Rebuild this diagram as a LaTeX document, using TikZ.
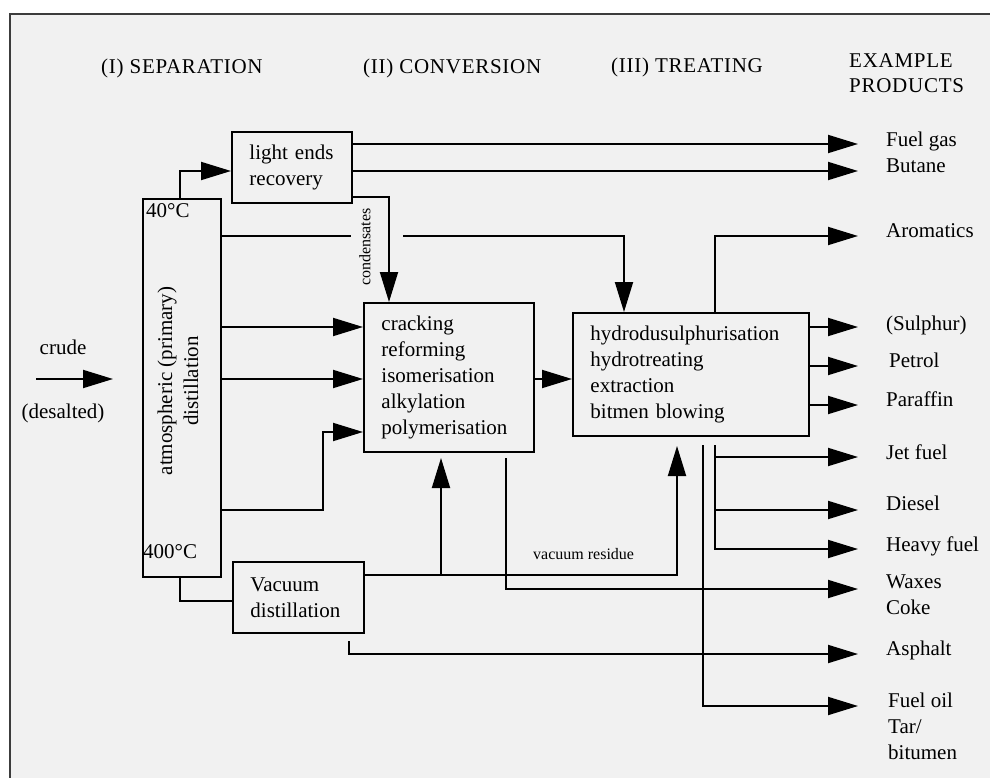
\documentclass[tikz,border=0pt]{standalone}
\usepackage{fontspec}
\setmainfont{Liberation Serif}
\newfontfamily\hdrfont[LetterSpace=3.5]{Liberation Serif}
\usetikzlibrary{arrows.meta,calc}
\definecolor{bgc}{RGB}{241,241,241}
\definecolor{framec}{RGB}{60,60,60}
\begin{document}
\begin{tikzpicture}[x=1pt,y=-1pt,
  txt/.style={font=\fontsize{21}{26}\selectfont, inner sep=0pt},
  small/.style={font=\fontsize{16}{19}\selectfont, inner sep=0pt},
  hdr/.style={font=\hdrfont\fontsize{21}{26}\selectfont, inner sep=0pt, anchor=base west},
  prod/.style={txt, anchor=base west},
  box/.style={draw, line width=1.9pt, font=\fontsize{21}{26}\selectfont, align=left,
              inner xsep=17.5pt, inner ysep=0pt, anchor=north west},
  ln/.style={line width=1.9pt},
  arr/.style={ln, -{Triangle[length=30pt,width=18pt]}},
]
\useasboundingbox (0,0) rectangle (990,778);
\clip (0,0) rectangle (990,778);
\fill[white] (0,0) rectangle (990,778);
\fill[bgc] (10,14) rectangle (995,790);
\draw[framec, line width=1.6pt] (10,795) -- (10,14) -- (1000,14);

% headers
\node[hdr] (h1) at (101,74) {(I) SEPARATION};
\node[hdr] (h2) at (363,74) {(II) CONVERSION};
\node[hdr] (h3) at (611,73) {(III) TREATING};
\node[hdr] (h4) at (849,68) {EXAMPLE};
\node[hdr] (h5) at (849,93) {PRODUCTS};

% boxes
\node[draw, line width=1.9pt, minimum width=78pt, minimum height=378pt, inner sep=0pt, anchor=north west] (col) at (142,198) {};
\node[txt, rotate=90, align=center] (coltxt) at (178,381) {atmospheric (primary)\\distillation};
\node[prod] (t40) at (146,218) {40°C};
\node[prod] (t400) at (143,558) {400°C};

\node[box, text width=85pt, minimum height=71pt] (le) at (231,131) {light ends\\recovery};
\node[box, text width=135pt, minimum height=149pt] (ck) at (363,302) {cracking\\reforming\\isomerisation\\alkylation\\polymerisation};
\node[box, text width=201pt, minimum height=123pt] (tr) at (572,312) {hydrodusulphurisation\\hydrotreating\\extraction\\bitmen blowing};
\node[box, text width=96pt, minimum height=71pt] (vac) at (232,561) {Vacuum\\distillation};

% crude
\coordinate (cs) at (36,379);
\coordinate (ce) at (113,379);
\draw[arr] (cs) -- (ce);
\node[txt, anchor=base] (crude) at (63,354) {crude};
\node[txt, anchor=base] (desalt) at (63,418) {(desalted)};

% product tips
\coordinate (tFG) at (858,144);
\coordinate (tBU) at (858,171);
\coordinate (tAR) at (858,236);
\coordinate (tSU) at (858,327);
\coordinate (tPE) at (858,366);
\coordinate (tPA) at (858,405);
\coordinate (tJF) at (858,457);
\coordinate (tDI) at (858,510);
\coordinate (tHF) at (858,549);
\coordinate (tWX) at (858,589);
\coordinate (tAS) at (858,654);
\coordinate (tFO) at (858,706);

% product labels
\node[prod] (pFG) at (886,147) {Fuel gas};
\node[prod] (pBU) at (886,173) {Butane};
\node[prod] (pAR) at (886,237) {Aromatics};
\node[prod] (pSU) at (886,330) {(Sulphur)};
\node[prod] (pPE) at (889,367) {Petrol};
\node[prod] (pPA) at (886,406) {Paraffin};
\node[prod] (pJF) at (886,459) {Jet fuel};
\node[prod] (pDI) at (886,510) {Diesel};
\node[prod] (pHF) at (886,551) {Heavy fuel};
\node[prod] (pWX) at (886,588) {Waxes};
\node[prod] (pCO) at (886,614) {Coke};
\node[prod] (pAS) at (886,655) {Asphalt};
\node[prod] (pFO) at (888,707) {Fuel oil};
\node[prod] (pTA) at (888,733) {Tar/};
\node[prod] (pBI) at (888,759) {bitumen};

% column -> light ends
\draw[arr] (col.north -| 180,0) |- (le.west |- 0,171);
% light ends -> products
\draw[arr] (le.east |- tFG) -- (tFG);
\draw[arr] (le.east |- tBU) -- (tBU);
% condensates
\draw[arr] (le.east |- 0,197) -| ([xshift=26pt]ck.north west);
\node[small, rotate=90] (cond) at (365,247) {condensates};

% column -> treating (with gap)
\coordinate (g1) at (351,236);
\coordinate (g2) at (403,236);
\draw[ln] (col.east |- g1) -- (g1);
\draw[arr] (g2) -| ([xshift=52pt]tr.north west);

% column -> cracking
\draw[arr] (col.east |- 0,327) -- (ck.west |- 0,327);
\draw[arr] (col.east |- 0,379) -- (ck.west |- 0,379);
\draw[arr] (col.east |- 0,510) -| (323,432) -- (ck.west |- 0,432);

% cracking -> treating
\draw[arr] (ck.east |- 0,379) -- (tr.west |- 0,379);

% treating -> products
\draw[arr] ([xshift=143pt]tr.north west) |- (tAR);
\draw[arr] (tr.east |- tSU) -- (tSU);
\draw[arr] (tr.east |- tPE) -- (tPE);
\draw[arr] (tr.east |- tPA) -- (tPA);
\coordinate (b1) at (715,445);
\coordinate (b2) at (703,445);
\draw[arr] (b1) |- (tJF);
\draw[arr] (b1) |- (tDI);
\draw[arr] (b1) |- (tHF);
\draw[arr] (b2) |- (tFO);

% column -> vacuum
\draw[ln] (col.south -| 180,0) |- (vac.west |- 0,601);

% vacuum residue
\coordinate (tTR) at (677,446);
\coordinate (vb) at (441,575);
\coordinate (tCK) at (441,458);
\draw[arr] (vac.east |- vb) -| (tTR);
\draw[arr] (vb) -- (tCK);
\node[small, anchor=base west] (vres) at (533,559) {vacuum residue};

% waxes / coke
\coordinate (w0) at (506,458);
\draw[arr] (w0) |- (tWX);
% asphalt
\coordinate (a0) at (349,641);
\draw[arr] (a0) |- (tAS);
\end{tikzpicture}
\end{document}
